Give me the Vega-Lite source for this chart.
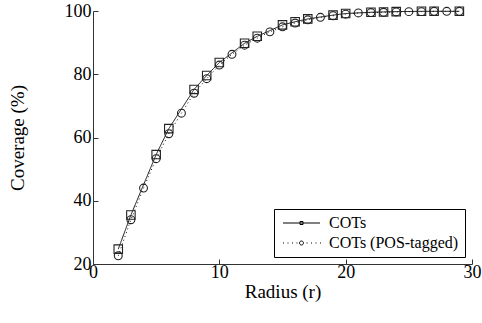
{
  "$schema": "https://vega.github.io/schema/vega-lite/v6.json",
  "width": 379,
  "height": 253,
  "autosize": "none",
  "padding": {"left": 93, "top": 11, "right": 10, "bottom": 59},
  "config": {
    "view": {"stroke": null},
    "font": "Liberation Serif",
    "axis": {
      "domainColor": "#333",
      "tickColor": "#333",
      "tickSize": -5,
      "labelFont": "Liberation Serif",
      "labelFontSize": 18,
      "labelColor": "black",
      "titleFont": "Liberation Serif",
      "titleFontSize": 19,
      "titleFontWeight": "normal",
      "titleColor": "black",
      "grid": false,
      "labelFlush": false,
      "labelOverlap": false
    }
  },
  "data": {
    "values": [
      {"r": 2, "series": "COTs", "cov": 24.7},
      {"r": 3, "series": "COTs", "cov": 35.5},
      {"r": 5, "series": "COTs", "cov": 54.6},
      {"r": 6, "series": "COTs", "cov": 62.8},
      {"r": 8, "series": "COTs", "cov": 75.2},
      {"r": 9, "series": "COTs", "cov": 79.6},
      {"r": 10, "series": "COTs", "cov": 83.7},
      {"r": 12, "series": "COTs", "cov": 89.8},
      {"r": 13, "series": "COTs", "cov": 92.0},
      {"r": 15, "series": "COTs", "cov": 95.6},
      {"r": 16, "series": "COTs", "cov": 96.6},
      {"r": 17, "series": "COTs", "cov": 97.5},
      {"r": 19, "series": "COTs", "cov": 98.7},
      {"r": 20, "series": "COTs", "cov": 99.2},
      {"r": 22, "series": "COTs", "cov": 99.6},
      {"r": 23, "series": "COTs", "cov": 99.7},
      {"r": 24, "series": "COTs", "cov": 99.8},
      {"r": 26, "series": "COTs", "cov": 99.9},
      {"r": 27, "series": "COTs", "cov": 99.9},
      {"r": 29, "series": "COTs", "cov": 99.9},
      {"r": 2, "series": "COTs (POS-tagged)", "cov": 22.6},
      {"r": 3, "series": "COTs (POS-tagged)", "cov": 34.0},
      {"r": 4, "series": "COTs (POS-tagged)", "cov": 44.0},
      {"r": 5, "series": "COTs (POS-tagged)", "cov": 53.3},
      {"r": 6, "series": "COTs (POS-tagged)", "cov": 61.2},
      {"r": 7, "series": "COTs (POS-tagged)", "cov": 67.7},
      {"r": 8, "series": "COTs (POS-tagged)", "cov": 74.0},
      {"r": 9, "series": "COTs (POS-tagged)", "cov": 78.6},
      {"r": 10, "series": "COTs (POS-tagged)", "cov": 82.9},
      {"r": 11, "series": "COTs (POS-tagged)", "cov": 86.3},
      {"r": 12, "series": "COTs (POS-tagged)", "cov": 89.2},
      {"r": 13, "series": "COTs (POS-tagged)", "cov": 91.4},
      {"r": 14, "series": "COTs (POS-tagged)", "cov": 93.4},
      {"r": 15, "series": "COTs (POS-tagged)", "cov": 95.0},
      {"r": 16, "series": "COTs (POS-tagged)", "cov": 96.2},
      {"r": 17, "series": "COTs (POS-tagged)", "cov": 97.2},
      {"r": 18, "series": "COTs (POS-tagged)", "cov": 98.0},
      {"r": 19, "series": "COTs (POS-tagged)", "cov": 98.5},
      {"r": 20, "series": "COTs (POS-tagged)", "cov": 99.0},
      {"r": 21, "series": "COTs (POS-tagged)", "cov": 99.4},
      {"r": 22, "series": "COTs (POS-tagged)", "cov": 99.5},
      {"r": 23, "series": "COTs (POS-tagged)", "cov": 99.6},
      {"r": 24, "series": "COTs (POS-tagged)", "cov": 99.7},
      {"r": 25, "series": "COTs (POS-tagged)", "cov": 99.8},
      {"r": 26, "series": "COTs (POS-tagged)", "cov": 99.8},
      {"r": 27, "series": "COTs (POS-tagged)", "cov": 99.9},
      {"r": 28, "series": "COTs (POS-tagged)", "cov": 99.9},
      {"r": 29, "series": "COTs (POS-tagged)", "cov": 99.9}
    ]
  },
  "encoding": {
    "x": {
      "field": "r",
      "type": "quantitative",
      "scale": {"domain": [0, 30], "nice": false, "zero": false},
      "axis": {"values": [0, 10, 20, 30], "title": "Radius (r)", "labelPadding": 4, "titlePadding": 1}
    },
    "y": {
      "field": "cov",
      "type": "quantitative",
      "scale": {"domain": [20, 100], "nice": false, "zero": false},
      "axis": {"values": [20, 40, 60, 80, 100], "title": "Coverage (%)", "labelPadding": 7, "titlePadding": 37}
    }
  },
  "layer": [
    {
      "mark": {"type": "line", "color": "#111", "strokeWidth": 1},
      "encoding": {
        "strokeDash": {
          "field": "series",
          "type": "nominal",
          "scale": {"domain": ["COTs", "COTs (POS-tagged)"], "range": [[1, 0], [1, 3]]},
          "legend": null
        }
      }
    },
    {
      "mark": {"type": "point", "filled": false, "strokeWidth": 1.1, "color": "#222", "opacity": 1},
      "encoding": {
        "shape": {
          "field": "series",
          "type": "nominal",
          "scale": {"domain": ["COTs", "COTs (POS-tagged)"], "range": ["square", "circle"]},
          "legend": null
        },
        "size": {
          "field": "series",
          "type": "nominal",
          "scale": {"domain": ["COTs", "COTs (POS-tagged)"], "range": [72, 62]},
          "legend": null
        }
      }
    },
    {
      "mark": {"type": "point", "filled": false, "strokeWidth": 1, "color": "black", "opacity": 0},
      "encoding": {
        "shape": {
          "field": "series",
          "type": "nominal",
          "scale": {
            "domain": ["COTs", "COTs (POS-tagged)"],
            "range": [
              "M-1,0H6.4M2.4,-0.3H3V0.3H2.4Z",
              "M-1,0h0.2M-0.1,0h0.2M0.8,0h0.2M1.7,0h0.2M3.7,0h0.2M4.6,0h0.2M5.5,0h0.2M6.4,0h0.2M3.1,0A0.4,0.4 0 1,1 2.3,0A0.4,0.4 0 1,1 3.1,0"
            ]
          },
          "legend": {
            "title": null,
            "orient": "bottom-right",
            "offset": 7,
            "strokeColor": "black",
            "fillColor": "white",
            "padding": 6,
            "cornerRadius": 0,
            "labelFont": "Liberation Serif",
            "labelFontSize": 16,
            "labelColor": "black",
            "labelExpr": "datum.label + '   '",
            "symbolSize": 100,
            "labelOffset": 33,
            "rowPadding": 4,
            "symbolOpacity": 1,
            "symbolStrokeColor": "black",
            "symbolStrokeWidth": 1,
            "encode": {
              "symbols": {
                "update": {
                  "opacity": {"value": 1},
                  "fill": {"signal": "datum.value === 'COTs' ? 'black' : 'transparent'"}
                }
              }
            }
          }
        }
      }
    }
  ],
  "resolve": {"scale": {"shape": "independent"}, "legend": {"shape": "independent"}}
}
